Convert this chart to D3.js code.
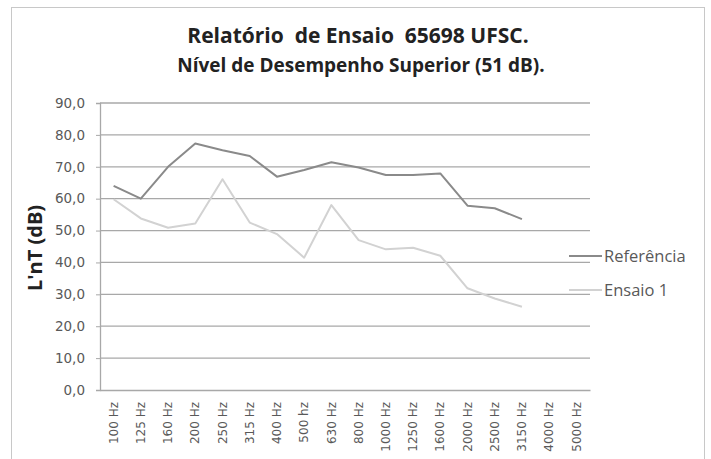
<!DOCTYPE html>
<html><head><meta charset="utf-8">
<script src="https://cdn.jsdelivr.net/npm/d3@7"></script>
<style>body{margin:0;background:#fff}svg{display:block}</style>
</head><body>
<svg id="c" width="711" height="459"></svg>
<script>
const categories = ["100 Hz","125 Hz","160 Hz","200 Hz","250 Hz","315 Hz","400 Hz","500 hz","630 Hz","800 Hz","1000 Hz","1250 Hz","1600 Hz","2000 Hz","2500 Hz","3150 Hz","4000 Hz","5000 Hz"];
const referencia = [64.0,60.0,70.0,77.3,75.2,73.4,66.9,69.0,71.4,69.8,67.4,67.4,67.9,57.8,57.0,53.6,null,null];
const ensaio1 = [59.8,53.8,50.9,52.2,66.1,52.5,48.9,41.5,58.0,47.0,44.1,44.6,42.1,31.9,28.7,26.1,null,null];
const yTicks = [0,10,20,30,40,50,60,70,80,90];
const seriesNames = ["Referência","Ensaio 1"];

const svg = d3.select("#c");
const font = "'Open Sans', 'Liberation Sans', sans-serif";
const tickFont = "'DejaVu Sans', Verdana, sans-serif";
const L = 100, R = 590, T = 103, B = 390;

svg.append("rect").attr("x",11.5).attr("y",7.5).attr("width",693).attr("height",470)
  .attr("fill","#fff").attr("stroke","#c8c8c8");

const x = d3.scaleBand().domain(categories).range([L,R]);
const y = d3.scaleLinear().domain([0,90]).range([B,T]);

// gridlines
svg.append("g").selectAll("line").data(yTicks.slice(1)).join("line")
  .attr("x1",L).attr("x2",R).attr("y1",d=>y(d)).attr("y2",d=>y(d))
  .attr("stroke","#a8a8a8").attr("stroke-width",1.3);

// y axis
const ya = svg.append("g").attr("transform",`translate(${L},0)`)
  .call(d3.axisLeft(y).tickValues(yTicks).tickSize(4).tickFormat(d=>d3.format(".1f")(d).replace(".",",")));
ya.select(".domain").attr("stroke","#a8a8a8").attr("stroke-width",1.3);
ya.selectAll(".tick line").attr("stroke","#a8a8a8");
ya.selectAll("text").attr("font-family",tickFont).attr("font-size",13.5).attr("fill","#595959").attr("x",-15);

// x axis
const xa = svg.append("g").attr("transform",`translate(0,${B})`)
  .call(d3.axisBottom(x).tickSize(0));
xa.select(".domain").attr("stroke","#a8a8a8").attr("stroke-width",1.3);
xa.selectAll("text").attr("font-family",tickFont).attr("font-size",12).attr("fill","#595959")
  .attr("transform","rotate(-90)").attr("text-anchor","end").attr("x",-12).attr("y",0).attr("dy","0.35em");

// lines
const line = d3.line().defined(d=>d!=null).x((d,i)=>x(categories[i])+x.bandwidth()/2).y(d=>y(d));
const colors = ["#8a8a8a","#d2d2d2"];
[referencia, ensaio1].forEach((s,k)=>{
  svg.append("path").datum(s).attr("d",line).attr("fill","none")
    .attr("stroke",colors[k]).attr("stroke-width",2).attr("stroke-linejoin","round");
});

// legend
const ly = [256, 290];
seriesNames.forEach((n,k)=>{
  svg.append("line").attr("x1",569).attr("x2",602).attr("y1",ly[k]).attr("y2",ly[k])
    .attr("stroke",colors[k]).attr("stroke-width",2);
  svg.append("text").attr("x",604).attr("y",ly[k]).attr("dy","0.35em")
    .attr("font-family",font).attr("font-size",16.5).attr("fill","#595959").text(n);
});

// titles
svg.append("text").attr("x",358).attr("y",43).attr("text-anchor","middle")
  .style("white-space","pre")
  .attr("font-family",font).attr("font-weight","bold").attr("font-size",21).attr("fill","#222")
  .text("Relatório  de Ensaio  65698 UFSC.");
svg.append("text").attr("x",361).attr("y",72).attr("text-anchor","middle")
  .attr("font-family",font).attr("font-weight","bold").attr("font-size",19).attr("fill","#222")
  .text("Nível de Desempenho Superior (51 dB).");

svg.append("text").attr("transform",`translate(42,248) rotate(-90)`).attr("text-anchor","middle")
  .attr("font-family",font).attr("font-weight","bold").attr("font-size",20).attr("fill","#222")
  .text("L'nT (dB)");
</script>
</body></html>
